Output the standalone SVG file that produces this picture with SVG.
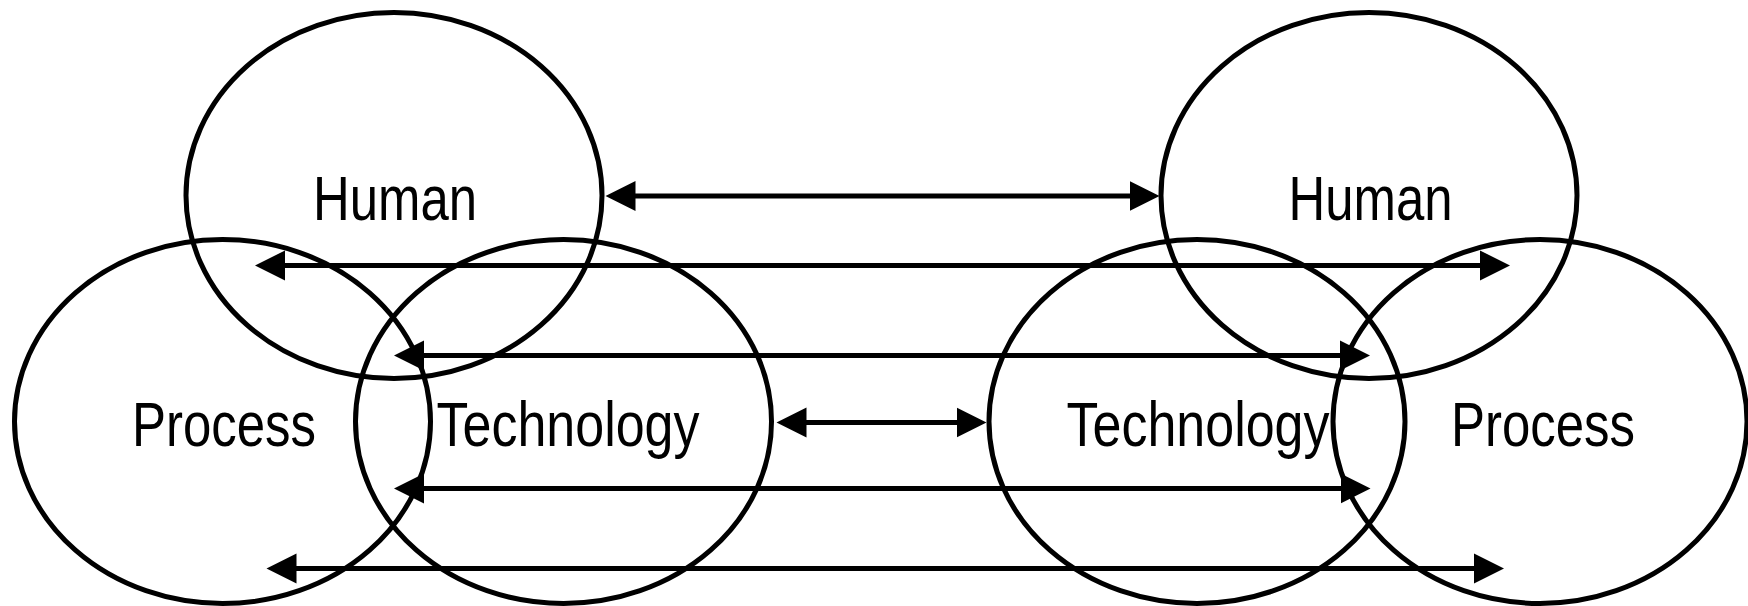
<svg xmlns="http://www.w3.org/2000/svg" width="1748" height="606" viewBox="0 0 1748 606">
<style>
.node ellipse{fill:none;stroke:#000;stroke-width:5}
.node text{font-family:"Liberation Sans Narrow","Liberation Sans",Arial,sans-serif;font-size:63px;fill:#000;text-anchor:middle}
.conn line{stroke:#000;stroke-width:4.8;marker-start:url(#ah);marker-end:url(#ah)}
</style>
<defs>
<marker id="ah" markerUnits="userSpaceOnUse" markerWidth="32" markerHeight="32" refX="2" refY="15" orient="auto-start-reverse" viewBox="0 0 32 30">
<path d="M0,0 L30,15 L0,30 z" fill="#000"/>
</marker>
</defs>
<rect width="1748" height="606" fill="#fff"/>
<g id="human-left" class="node"><ellipse cx="394" cy="195.5" rx="208" ry="183"/><text x="395" y="220" textLength="164" lengthAdjust="spacingAndGlyphs">Human</text></g>
<g id="process-left" class="node"><ellipse cx="222.5" cy="421.5" rx="208" ry="182"/><text x="224" y="445.5" textLength="184" lengthAdjust="spacingAndGlyphs">Process</text></g>
<g id="technology-left" class="node"><ellipse cx="563.5" cy="421.5" rx="208" ry="182"/><text x="568" y="445.5" textLength="263" lengthAdjust="spacingAndGlyphs">Technology</text></g>
<g id="human-right" class="node"><ellipse cx="1369" cy="195.5" rx="208" ry="183"/><text x="1370.5" y="220" textLength="164" lengthAdjust="spacingAndGlyphs">Human</text></g>
<g id="technology-right" class="node"><ellipse cx="1197" cy="421.5" rx="208" ry="182"/><text x="1198" y="445.5" textLength="263" lengthAdjust="spacingAndGlyphs">Technology</text></g>
<g id="process-right" class="node"><ellipse cx="1540" cy="421.5" rx="207" ry="182"/><text x="1543" y="445.5" textLength="184" lengthAdjust="spacingAndGlyphs">Process</text></g>
<g id="connectors" class="conn">
<line x1="633.5" y1="196" x2="1131.5" y2="196"/>
<line x1="283" y1="265.5" x2="1482" y2="265.5"/>
<line x1="422" y1="355.5" x2="1342" y2="355.5"/>
<line x1="804.5" y1="422.5" x2="958.5" y2="422.5"/>
<line x1="422" y1="488.5" x2="1342.5" y2="488.5"/>
<line x1="294.5" y1="568.5" x2="1476" y2="568.5"/>
</g>
</svg>
